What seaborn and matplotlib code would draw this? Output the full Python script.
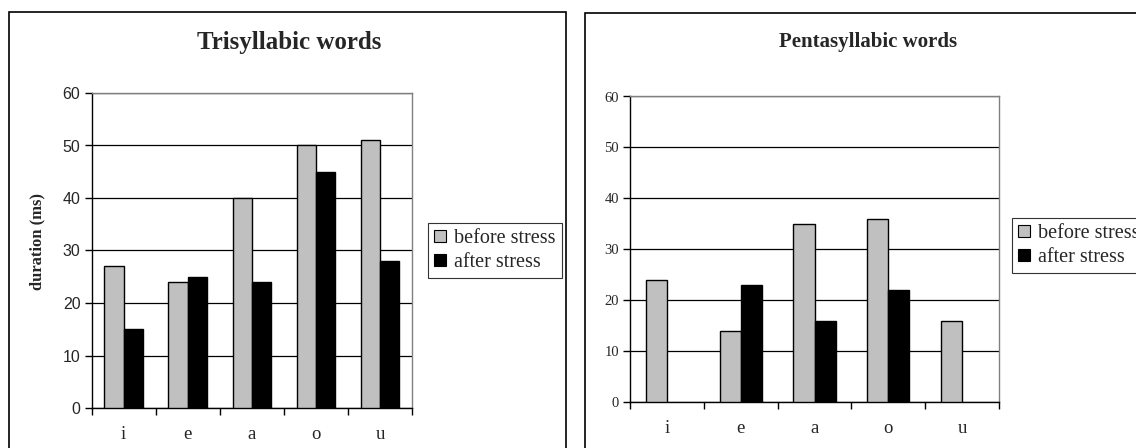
import seaborn as sns
import matplotlib.pyplot as plt
import matplotlib.patches as mpatches
import pandas as pd
import numpy as np

sns.set_style("white")

vowels = ["i", "e", "a", "o", "u"]
series = ["before stress", "after stress"]

# Trisyllabic words (ms)
tri_before = [27, 24, 40, 50, 51]
tri_after = [15, 25, 24, 45, 28]

# Pentasyllabic words (ms) - no "after" bar for i and u
penta_before = [24, 14, 35, 36, 16]
penta_after = [np.nan, 23, 16, 22, np.nan]

colors = {"before stress": "#C0C0C0", "after stress": "#000000"}
SERIF = "Liberation Serif"
SANS = "Liberation Sans"


def long_df(before, after):
    df = pd.DataFrame({"vowel": vowels * 2,
                       "series": [series[0]] * 5 + [series[1]] * 5,
                       "duration": list(before) + list(after)})
    return df.dropna()


def draw(ax, df, width, ytick_font, ytick_size):
    sns.barplot(data=df, x="vowel", y="duration", hue="series",
                order=vowels, hue_order=series, palette=colors,
                edgecolor="black", linewidth=1, width=width,
                errorbar=None, legend=False, ax=ax, zorder=3)
    ax.set_xlim(-0.5, 4.5)
    ax.set_ylim(0, 60)
    ax.set_yticks(range(0, 61, 10))
    ax.yaxis.grid(True, color="black", linewidth=0.9)
    ax.set_axisbelow(True)
    ax.set_xlabel("")
    ax.set_ylabel("")
    for s in ["left", "bottom"]:
        ax.spines[s].set_color("black")
        ax.spines[s].set_linewidth(1)
    for s in ["top", "right"]:
        ax.spines[s].set_color("#808080")
        ax.spines[s].set_linewidth(1)
    ax.set_xticks(np.arange(-0.5, 5, 1), minor=True)
    ax.tick_params(axis="x", which="major", length=0, pad=13)
    ax.tick_params(axis="x", which="minor", length=5, width=1, color="black",
                   direction="out", bottom=True)
    ax.tick_params(axis="y", length=5, width=1, color="black", direction="out",
                   left=True, pad=3)
    for t in ax.get_xticklabels():
        t.set_fontfamily(SERIF)
        t.set_fontsize(13.5)
    for t in ax.get_yticklabels():
        t.set_fontfamily(ytick_font)
        t.set_fontsize(ytick_size)


fig = plt.figure(figsize=(11.36, 4.48), dpi=100)

# panel borders
fig.add_artist(mpatches.Rectangle((9 / 1136, -0.1), (566 - 9) / 1136, 1.1 - 12 / 448,
                                  transform=fig.transFigure, fill=False,
                                  edgecolor="black", linewidth=1.2))
fig.add_artist(mpatches.Rectangle((585 / 1136, -0.1), 0.6, 1.1 - 13 / 448,
                                  transform=fig.transFigure, fill=False,
                                  edgecolor="black", linewidth=1.2))

ax1 = fig.add_axes([91.6 / 1136, 40 / 448, 320.4 / 1136, 315 / 448])
draw(ax1, long_df(tri_before, tri_after), 0.6, SANS, 11.5)

ax2 = fig.add_axes([630 / 1136, 46 / 448, 369 / 1136, 305.5 / 448])
draw(ax2, long_df(penta_before, penta_after), 0.57, SERIF, 10.5)

fig.text(289 / 1136, 1 - 42 / 448, "Trisyllabic words", ha="center", va="center",
         fontfamily=SERIF, fontweight="bold", fontsize=18)
fig.text(868 / 1136, 1 - 42 / 448, "Pentasyllabic words", ha="center", va="center",
         fontfamily=SERIF, fontweight="bold", fontsize=15)
fig.text(37 / 1136, 1 - 242 / 448, "duration (ms)", ha="center", va="center",
         rotation=90, fontfamily=SERIF, fontweight="bold", fontsize=12)

handles = [mpatches.Patch(facecolor=colors[s], edgecolor="black", linewidth=0.8)
           for s in series]
for ax, (lx, ly) in [(ax1, (428 / 1136, 1 - 223 / 448)),
                     (ax2, (1012 / 1136, 1 - 218 / 448))]:
    leg = ax.legend(handles, series, loc="upper left", bbox_to_anchor=(lx, ly),
                    bbox_transform=fig.transFigure, frameon=True, fancybox=False,
                    shadow=False, handlelength=0.6, handleheight=0.6,
                    handletextpad=0.4, labelspacing=0.25, borderpad=0.3,
                    borderaxespad=0, prop={"family": SERIF, "size": 14.5})
    leg.get_frame().set_edgecolor("black")
    leg.get_frame().set_linewidth(0.8)

plt.savefig("out.png", dpi=100)
plt.close()
